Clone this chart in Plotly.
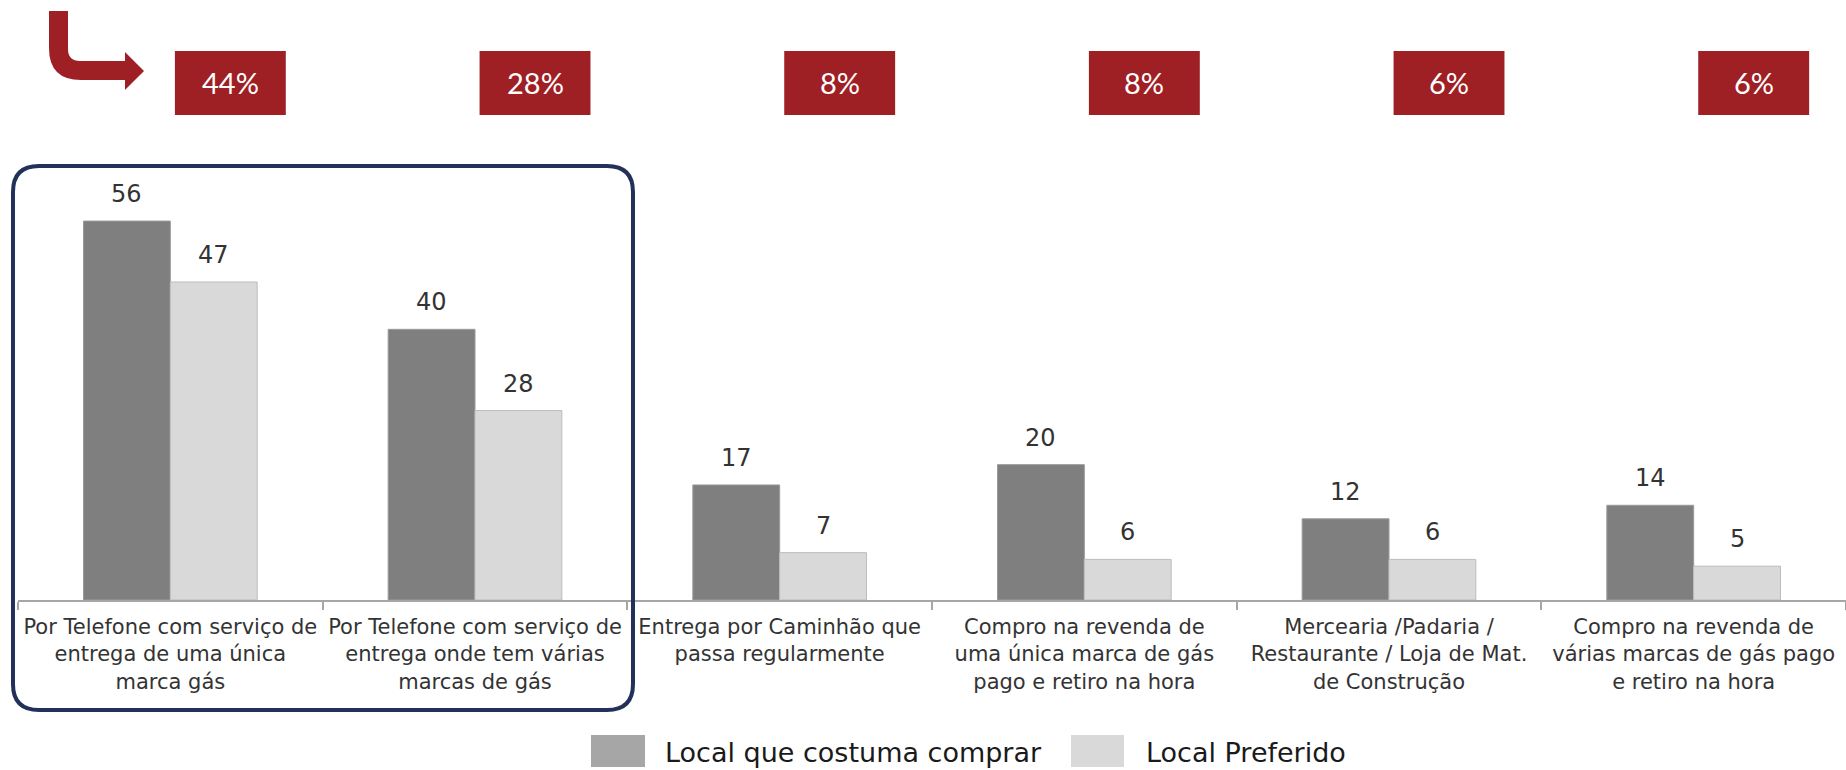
import plotly.graph_objects as go

# ---- data -------------------------------------------------------------
categories = [
    "Por Telefone com serviço de entrega de uma única marca gás",
    "Por Telefone com serviço de entrega onde tem várias marcas de gás",
    "Entrega por Caminhão que passa regularmente",
    "Compro na revenda de uma única marca de gás pago e retiro na hora",
    "Mercearia /Padaria / Restaurante / Loja de Mat. de Construção",
    "Compro na revenda de várias marcas de gás pago e retiro na hora",
]
tick_labels = [
    "Por Telefone com serviço de<br>entrega de uma única<br>marca gás",
    "Por Telefone com serviço de<br>entrega onde tem várias<br>marcas de gás",
    "Entrega por Caminhão que<br>passa regularmente",
    "Compro na revenda de<br>uma única marca de gás<br>pago e retiro na hora",
    "Mercearia /Padaria /<br>Restaurante / Loja de Mat.<br>de Construção",
    "Compro na revenda de<br>várias marcas de gás pago<br>e retiro na hora",
]
series_names = ["Local que costuma comprar", "Local Preferido"]
costuma_comprar = [56, 40, 17, 20, 12, 14]
preferido = [47, 28, 7, 6, 6, 5]
share_labels = ["44%", "28%", "8%", "8%", "6%", "6%"]

# ---- styling ----------------------------------------------------------
W, H = 1846, 770
ML, MR, MT, MB = 18, 0, 194, 170
PW, PH = W - ML - MR, H - MT - MB
Y_MAX = 60
BARGAP = 0.43
DARK, LIGHT = "#7F7F7F", "#D9D9D9"
SWATCH = ["#A6A6A6", "#D9D9D9"]
RED = "#9E1F24"
NAVY = "#22315A"
FONT = "DejaVu Sans"
TEXT = "#333333"


def px(x):
    return (x - ML) / PW


def py(y):
    return (H - MB - y) / PH


def path_string(segments):
    parts = []
    for seg in segments:
        cmd, pts = seg[0], seg[1:]
        parts.append(cmd + " ".join(f"{px(x):.5f},{py(y):.5f}" for x, y in pts))
    return " ".join(parts) + " Z"


fig = go.Figure()
for name, vals, col, edge in [
    (series_names[0], costuma_comprar, DARK, "#9A9A9A"),
    (series_names[1], preferido, LIGHT, "#BDBDBD"),
]:
    fig.add_trace(go.Bar(
        x=categories, y=vals, name=name,
        marker=dict(color=col, line=dict(color=edge, width=1)),
        showlegend=False, hoverinfo="skip",
    ))

# value labels above each bar
half = (1 - BARGAP) / 4
annotations = []
for i, (a, b) in enumerate(zip(costuma_comprar, preferido)):
    for off, v in ((-half, a), (half, b)):
        annotations.append(dict(
            x=i + off, y=v, xref="x", yref="y", text=str(v),
            showarrow=False, yanchor="bottom", yshift=11,
            font=dict(family=FONT, size=24, color=TEXT),
        ))

shapes = []
# red share boxes above each category
BOX_OFF, BOX_HALF = 0.197, 0.182
for i, s in enumerate(share_labels):
    shapes.append(dict(
        type="rect", xref="x", yref="paper",
        x0=i + BOX_OFF - BOX_HALF, x1=i + BOX_OFF + BOX_HALF,
        y0=py(115), y1=py(51),
        fillcolor=RED, line=dict(width=0),
    ))
    annotations.append(dict(
        x=i + BOX_OFF, y=py(83), xref="x", yref="paper", text=s,
        showarrow=False, xanchor="center", yanchor="middle",
        font=dict(family="Lato", size=29, color="white"),
    ))

# bent arrow in the top-left corner
arrow = [
    ("M", (49, 11)), ("L", (49, 48)), ("Q", (49, 80), (81, 80)),
    ("L", (125, 80)), ("L", (125, 90)), ("L", (144, 71)), ("L", (125, 52)),
    ("L", (125, 61)), ("L", (80, 61)), ("Q", (68, 61), (68, 49)),
    ("L", (68, 11)),
]
shapes.append(dict(
    type="path", xref="paper", yref="paper",
    path=path_string(arrow), fillcolor=RED, line=dict(width=0),
))

# rounded frame around the first two categories
l, r, t, b, rad = 13, 633, 166, 710, 26
frame = [
    ("M", (l + rad, t)), ("L", (r - rad, t)), ("Q", (r, t), (r, t + rad)),
    ("L", (r, b - rad)), ("Q", (r, b), (r - rad, b)), ("L", (l + rad, b)),
    ("Q", (l, b), (l, b - rad)), ("L", (l, t + rad)), ("Q", (l, t), (l + rad, t)),
]
shapes.append(dict(
    type="path", xref="paper", yref="paper", path=path_string(frame),
    line=dict(color=NAVY, width=4), fillcolor="rgba(0,0,0,0)",
))

# legend drawn as swatches + labels
legend_items = [(591, 645, 663), (1071, 1124, 1144)]
for (sx0, sx1, tx), name, col in zip(legend_items, series_names, SWATCH):
    shapes.append(dict(
        type="rect", xref="paper", yref="paper",
        x0=px(sx0), x1=px(sx1), y0=py(767), y1=py(735),
        fillcolor=col, line=dict(width=0),
    ))
    annotations.append(dict(
        x=px(tx), y=py(752), xref="paper", yref="paper", text=name,
        showarrow=False, xanchor="left", yanchor="middle",
        font=dict(family=FONT, size=27, color="#1a1a1a"),
    ))

fig.update_layout(
    width=W, height=H,
    margin=dict(l=ML, r=MR, t=MT, b=MB, pad=0),
    paper_bgcolor="white", plot_bgcolor="white",
    barmode="group", bargap=BARGAP, bargroupgap=0,
    shapes=shapes, annotations=annotations,
    xaxis=dict(
        type="category", tickmode="array", tickvals=categories, ticktext=tick_labels,
        tickson="boundaries", ticks="outside", ticklen=8, tickcolor="#A6A6A6",
        tickwidth=1.5, showline=True, linecolor="#A6A6A6", linewidth=1.5,
        showgrid=False, tickangle=0, ticklabelstandoff=7,
        tickfont=dict(family=FONT, size=21, color=TEXT),
    ),
    yaxis=dict(range=[0, Y_MAX], visible=False, showgrid=False, zeroline=False),
)

fig.write_html("out.html")
